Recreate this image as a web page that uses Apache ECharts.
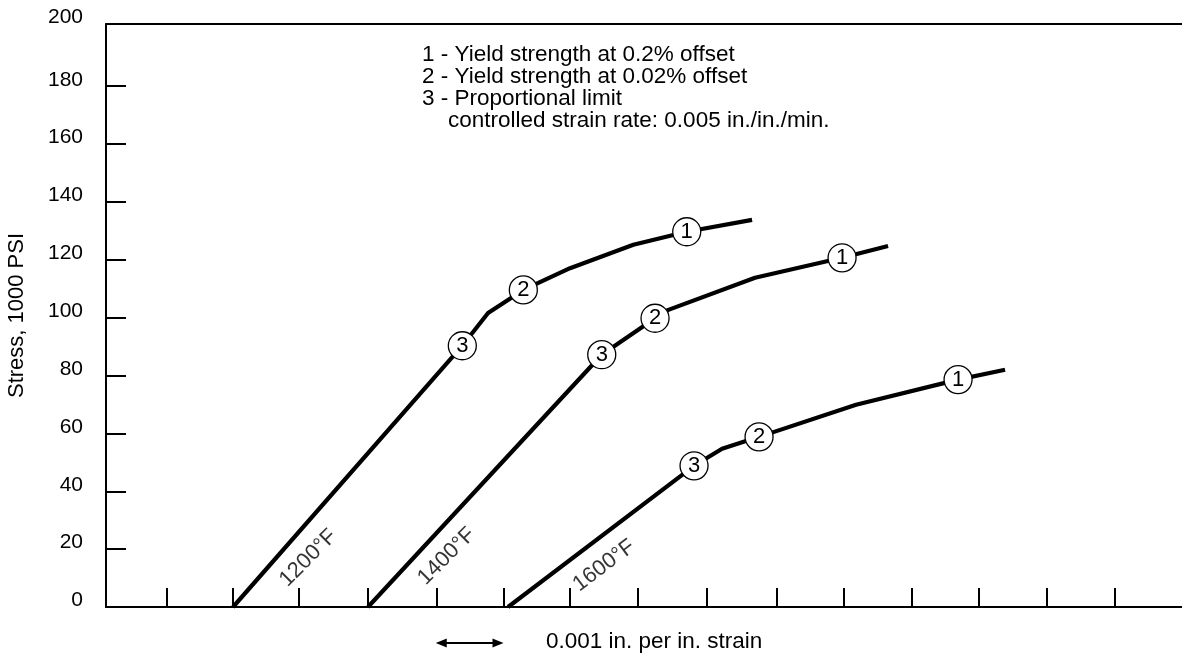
<!DOCTYPE html>
<html><head><meta charset="utf-8">
<script src="https://cdn.jsdelivr.net/npm/echarts@6/dist/echarts.min.js"></script>
<style>html,body{margin:0;padding:0;background:#fff}#c{width:1182px;height:657px}</style>
</head><body><div id="c"></div>
<script>
// Strain axis in units of 0.001 in./in. (origin at left axis line)
const xMax = 15.89;
const xTicks = [0.901,1.876,2.840,3.869,4.888,5.878,6.842,7.847,8.872,9.905,10.899,11.899,12.893,13.897,14.902];
const yMax = 201.5;
const yTicks = [20,40,60,80,100,120,140,160,180];
const yTickLabels = [0,20,40,60,80,100,120,140,160,180,200];

// [strain, stress (1000 PSI), marker]
const curve1200 = [[1.876,0,''],[5.262,90.3,'3'],[5.642,101.6,''],[6.163,109.6,'2'],[6.853,117.1,''],[7.788,125.2,''],[8.576,129.7,'1'],[9.541,133.8,'']];
const curve1400 = [[3.869,0,''],[7.321,87.2,'3'],[8.108,99.8,'2'],[8.305,102.7,''],[9.585,113.8,''],[10.870,120.7,'1'],[11.549,124.8,'']];
const curve1600 = [[5.937,0,''],[8.684,48.8,'3'],[9.098,54.7,''],[9.644,58.8,'2'],[11.077,69.9,''],[12.583,78.6,'1'],[13.277,82.0,'']];
const curveNames = ['1200°F','1400°F','1600°F'];
const curveNamePos = [[2.988,16.9],[5.032,17.5],[7.355,14.3]];
const curveNameRot = [45,45,37];

const notes = ['1 - Yield strength at 0.2% offset','2 - Yield strength at 0.02% offset','3 - Proportional limit'];
const noteRate = 'controlled strain rate: 0.005 in./in./min.';
const scaleText = '0.001 in. per in. strain';
const scaleFrom = 4.87, scaleLen = 1.0;

const FONT = '"Liberation Sans", Arial, Helvetica, sans-serif';
const chart = echarts.init(document.getElementById('c'), null, {renderer:'canvas'});

function toData(curve){
  return curve.map(p => p[2] ? {
    value:[p[0],p[1]], symbol:'circle', symbolSize:28,
    itemStyle:{color:'#fff', borderColor:'#000', borderWidth:1.3},
    label:{show:true, position:'inside', formatter:p[2], fontSize:22, color:'#000', fontFamily:FONT}
  } : {value:[p[0],p[1]], symbol:'none'});
}
const curves = [curve1200, curve1400, curve1600];
const series = curves.map((c,i)=>({
  type:'line', name:curveNames[i], data:toData(c), showSymbol:true, showAllSymbol:true,
  lineStyle:{color:'#000', width:4.2}, itemStyle:{color:'#000'}, z:3, silent:true,
  emphasis:{disabled:true}
}));
series.push({
  type:'scatter', symbolSize:0, silent:true, z:4,
  data: curveNames.map((n,i)=>({value:curveNamePos[i], label:{show:true, position:'inside', formatter:n, rotate:curveNameRot[i], fontSize:22, color:'#000', fontFamily:FONT}}))
});

const axisLine = {show:true, onZero:false, lineStyle:{color:'#000', width:2}};
chart.setOption({
  animation:false,
  backgroundColor:'#fff',
  grid:{left:106, right:0, top:24, bottom:50, containLabel:false, outerBoundsMode:'none'},
  xAxis:[{
    type:'value', min:0, max:xMax, position:'bottom', axisLine:axisLine,
    axisTick:{show:true, inside:true, length:19, customValues:xTicks, lineStyle:{color:'#000', width:2}},
    axisLabel:{show:false}, splitLine:{show:false}
  },{
    type:'value', min:0, max:xMax, position:'top', axisLine:axisLine,
    axisTick:{show:false}, axisLabel:{show:false}, splitLine:{show:false}
  }],
  yAxis:{
    type:'value', min:0, max:yMax, axisLine:axisLine,
    axisTick:{show:true, inside:true, length:20, customValues:yTicks, lineStyle:{color:'#000', width:2}},
    axisLabel:{customValues:yTickLabels, fontSize:21, color:'#000', margin:23, verticalAlign:'bottom', lineHeight:13, fontFamily:FONT,
      formatter: v => v === 200 ? '{t|200}' : String(v),
      rich:{t:{fontSize:21, lineHeight:23, color:'#000', fontFamily:FONT}}},
    splitLine:{show:false},
    name:'Stress, 1000 PSI', nameLocation:'middle', nameGap:78,
    nameTextStyle:{fontSize:22, color:'#000', fontFamily:FONT}
  },
  series:series
});

const xa = chart.convertToPixel({xAxisIndex:0}, scaleFrom);
const xb = chart.convertToPixel({xAxisIndex:0}, scaleFrom+scaleLen);
const ay = 643;
chart.setOption({
  graphic:[
    {type:'text', left:422, top:43, style:{text:notes.join('\n'), fontSize:22.5, lineHeight:22.3, fontFamily:FONT, fill:'#000'}},
    {type:'text', left:448, top:109.5, style:{text:noteRate, fontSize:22.5, lineHeight:22.3, fontFamily:FONT, fill:'#000'}},
    {type:'line', shape:{x1:xa+8, y1:ay, x2:xb-8, y2:ay}, style:{stroke:'#000', lineWidth:2}},
    {type:'polygon', shape:{points:[[xa,ay],[xa+11,ay-4.5],[xa+11,ay+4.5]]}, style:{fill:'#000'}},
    {type:'polygon', shape:{points:[[xb,ay],[xb-11,ay-4.5],[xb-11,ay+4.5]]}, style:{fill:'#000'}},
    {type:'text', left:546, top:ay-13, style:{text:scaleText, fontSize:22.5, fontFamily:FONT, fill:'#000'}}
  ]
});
</script>
</body></html>
